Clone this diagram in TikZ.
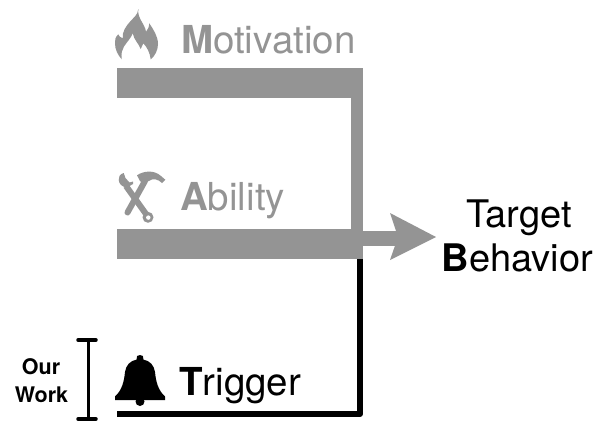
\documentclass[tikz,border=0pt]{standalone}
\usepackage{fontspec}
\setmainfont{TeX Gyre Heros}
\definecolor{barGray}{HTML}{949494}
\tikzset{
	bigText/.style={inner sep=0pt,font=\fontsize{38.5}{38.5}\selectfont},
	goalText/.style={inner sep=0pt,font=\fontsize{38}{38}\selectfont},
	smallText/.style={inner sep=0pt,font=\fontsize{21.5}{21.5}\selectfont\bfseries},
}
\begin{document}
\begin{tikzpicture}[x=1pt,y=-1pt,line join=round]
	\useasboundingbox (0,0) rectangle (605,421);
	% Điểm neo
	\coordinate (motL) at (117,83);
	\coordinate (motR) at (363,83);
	\coordinate (motDown) at (357,98);
	\coordinate (abiL) at (117,244);
	\coordinate (abiR) at (363,244);
	\coordinate (abiUp) at (357,229);
	\coordinate (shaftL) at (363,238.5);
	\coordinate (shaftR) at (398,238.5);
	\coordinate (trgL) at (117,414);
	\coordinate (trgC) at (360,414);
	\coordinate (trgUp) at (360,255);
	\coordinate (workT) at (88,340);
	\coordinate (workB) at (88,419);
	% Đường đen
	\draw [line width=6pt] (trgL) -- (trgC) -- (trgUp);
	% Thanh xám
	\draw [barGray,line width=30pt] (motL) -- (motR);
	\draw [barGray,line width=12pt] (motDown) -- (abiUp);
	\draw [barGray,line width=30pt] (abiL) -- (abiR);
	\draw [barGray,line width=15pt] (shaftL) -- (shaftR);
	\fill [barGray] (390,213) -- (436,237) -- (390,260) -- (398,237) -- cycle;
	% Khung Our Work
	\draw [line width=3pt] (workT) -- (workB);
	\draw [line width=3.5pt,line cap=round] (78,340) -- (96,340);
	\draw [line width=3.5pt,line cap=round] (78,419) -- (96,419);
	% Chữ
	\node [bigText,barGray,anchor=base west] (motText) at (181,53) {\textbf{M}otivation};
	\node [bigText,barGray,anchor=base west] (abiText) at (180,210) {\textbf{A}bility};
	\node [bigText,anchor=base west] (trgText) at (179,395) {\textbf{T}rigger};
	\node [goalText,anchor=base] (tarText) at (519,227.5) {Target};
	\node [goalText,anchor=base] (behText) at (517.5,271) {\textbf{B}ehavior};
	\node [smallText,anchor=base] (ourText) at (41,374.5) {Our};
	\node [smallText,anchor=base] (wrkText) at (41.5,402.5) {Work};
	% Ngọn lửa
	\fill [barGray] (138.3,9) .. controls (138,15) and (133,18) .. (130,21.7)
		.. controls (126,26) and (122,32) .. (122.7,38.3)
		.. controls (120,37.5) and (119,36) .. (118.3,34.3)
		.. controls (115.5,37) and (114.5,40) .. (115,43.3)
		.. controls (115,50) and (118,55) .. (121.7,59.3)
		.. controls (121,53) and (122,50) .. (124,46.5)
		.. controls (127,42) and (131,38) .. (132.7,33.3)
		.. controls (134,40) and (139,44) .. (140.7,49)
		-- (143.3,43.3)
		.. controls (147,47) and (150,53) .. (150.7,59.3)
		.. controls (155,56) and (158,50) .. (158,44)
		.. controls (158,36) and (153,29) .. (149.3,23.3)
		.. controls (149,27) and (148,29.5) .. (146,31.7)
		.. controls (145,24) and (137,18) .. (138.3,9) -- cycle;
	% Cờ lê
	\draw [barGray,line width=6pt] (126,186) -- (146,214);
	\fill [barGray] (148,217.3) circle (5.5);
	\fill [white] (148.3,217.6) circle (2.2);
	\fill [barGray] (123.7,173) .. controls (120,174) and (118,177) .. (118.7,180)
		.. controls (119,184) and (122,187) .. (127,187.5)
		-- (133,184) -- (133,181.5) -- (129.5,182.5) -- (125.5,178) -- cycle;
	% Búa
	\draw [barGray,line width=6pt,line cap=round] (127.5,212.5) -- (145,181);
	\fill [barGray] (137,175.3) .. controls (143,171) and (154,169.5) .. (161,176)
		-- (165.3,179.7) -- (162,183) .. controls (158,179) and (153,178) .. (148.7,181)
		-- (144,184) -- (140,181) -- cycle;
	% Chuông
	\fill (140,355) .. controls (137,355) and (136.7,356) .. (136.7,359.5)
		.. controls (130,361) and (126,365) .. (125,372)
		.. controls (124,382) and (122,390) .. (115,396.5)
		-- (115,400) -- (165,400) -- (165,396.5)
		.. controls (158,390) and (156,382) .. (155,372)
		.. controls (154,365) and (150,361) .. (143.3,359.5)
		.. controls (143.3,356) and (143,355) .. (140,355) -- cycle;
	\fill (140,401.5) circle (4.5);
\end{tikzpicture}
\end{document}
